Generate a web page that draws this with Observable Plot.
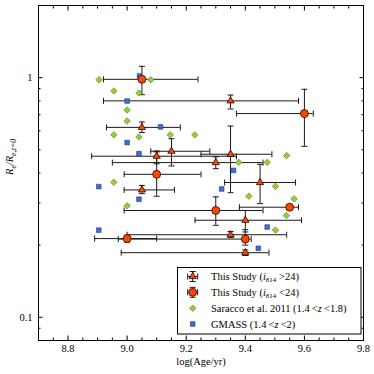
<!DOCTYPE html>
<html><head><meta charset="utf-8">
<script src="https://cdn.jsdelivr.net/npm/d3@7"></script>
<script src="https://cdn.jsdelivr.net/npm/@observablehq/plot@0.6"></script>
<style>
body{margin:0;background:#fff}
#chart{width:374px;height:374px}
</style>
</head><body><div id="chart"></div>
<script>
// This Study (i814 > 24) — triangles
const faintAge      = [9.35, 9.05, 9.10, 9.15, 9.35, 9.30, 9.45, 9.05, 9.40, 9.35, 9.40];
const faintRatio    = [0.80, 0.62, 0.47, 0.493, 0.479, 0.442, 0.365, 0.340, 0.254, 0.221, 0.186];
const faintAgeLo    = [8.92, 8.93, 8.88, 9.08, 9.25, 8.95, 9.33, 8.99, 9.23, 9.00, 8.98];
const faintAgeHi    = [9.58, 9.18, 9.37, 9.28, 9.49, 9.46, 9.57, 9.16, 9.59, 9.54, 9.48];
const faintRatioLo  = [0.74, 0.59, 0.437, 0.428, 0.331, 0.417, 0.298, 0.328, 0.227, 0.215, 0.181];
const faintRatioHi  = [0.846, 0.653, 0.494, 0.556, 0.628, 0.467, 0.435, 0.355, 0.279, 0.228, 0.191];

// This Study (i814 < 24) — circles
const brightAge     = [9.05, 9.60, 9.10, 9.30, 9.55, 9.00, 9.40];
const brightRatio   = [0.984, 0.708, 0.395, 0.279, 0.288, 0.213, 0.212];
const brightAgeLo   = [8.92, 9.37, 8.99, 8.99, 9.38, 8.89, 8.97];
const brightAgeHi   = [9.24, 9.63, 9.25, 9.46, 9.58, 9.10, 9.42];
const brightRatioLo = [0.849, 0.517, 0.32, 0.242, 0.281, 0.206, 0.200];
const brightRatioHi = [1.115, 0.894, 0.49, 0.318, 0.295, 0.220, 0.232];

// Saracco et al. 2011 (1.4 < z < 1.8) — diamonds
const saraccoAge   = [8.905, 9.08, 8.955, 9.04, 9.00, 9.00, 8.955, 9.04, 9.146, 9.229, 9.54, 9.378, 9.474, 8.955, 9.502, 9.412, 9.565, 9.00, 9.539, 9.502];
const saraccoRatio = [0.98, 0.98, 0.88, 0.863, 0.733, 0.659, 0.577, 0.565, 0.577, 0.577, 0.473, 0.443, 0.443, 0.366, 0.352, 0.320, 0.312, 0.292, 0.266, 0.231];

// GMASS (1.4 < z < 2) — squares
const gmassAge   = [9.042, 9.00, 9.113, 9.00, 9.04, 9.36, 8.904, 9.32, 9.04, 8.904, 9.474, 9.444];
const gmassRatio = [1.016, 0.799, 0.623, 0.536, 0.482, 0.410, 0.351, 0.343, 0.311, 0.231, 0.238, 0.194];

// Axes
const xMajor = [8.8, 9.0, 9.2, 9.4, 9.6, 9.8];
const xMinor = [8.75, 8.85, 8.9, 8.95, 9.05, 9.1, 9.15, 9.25, 9.3, 9.35, 9.45, 9.5, 9.55, 9.65, 9.7, 9.75];
const yMajor = [0.1, 1];
const yMajorLabels = ["0.1", "1"];
const yMinor = [0.09, 0.2, 0.3, 0.4, 0.5, 0.6, 0.7, 0.8, 0.9, 2];
const xLabel = "log(Age/yr)";

const legendLabels = [
  ["This Study (", {i: "i"}, {sub: "814"}, " >24)"],
  ["This Study (", {i: "i"}, {sub: "814"}, " <24)"],
  ["Saracco et al. 2011 (1.4\u2009<", {i: "z"}, "\u2009<1.8)"],
  ["GMASS (1.4\u2009<", {i: "z"}, "\u2009<2)"]
];

const FONT = "Liberation Serif";

const faint = faintAge.map((a, i) => ({age: a, ratio: faintRatio[i], xlo: faintAgeLo[i], xhi: faintAgeHi[i], ylo: faintRatioLo[i], yhi: faintRatioHi[i]}));
const bright = brightAge.map((a, i) => ({age: a, ratio: brightRatio[i], xlo: brightAgeLo[i], xhi: brightAgeHi[i], ylo: brightRatioLo[i], yhi: brightRatioHi[i]}));
const saracco = saraccoAge.map((a, i) => ({age: a, ratio: saraccoRatio[i]}));
const gmass = gmassAge.map((a, i) => ({age: a, ratio: gmassRatio[i]}));

const vcap = {draw(ctx, size) { const r = Math.sqrt(size / Math.PI); ctx.moveTo(0, -r); ctx.lineTo(0, r); }};
const hcap = {draw(ctx, size) { const r = Math.sqrt(size / Math.PI); ctx.moveTo(-r, 0); ctx.lineTo(r, 0); }};

const RED = "#ff4500", GREEN = "#9acd32", BLUE = "#3f6fdc", EB = "#1a1a1a";

function errorMarks(data) {
  return [
    Plot.ruleY(data, {y: "ratio", x1: "xlo", x2: "xhi", stroke: EB, strokeWidth: 1}),
    Plot.ruleX(data, {x: "age", y1: "ylo", y2: "yhi", stroke: EB, strokeWidth: 1}),
    Plot.dot(data, {x: "xlo", y: "ratio", symbol: vcap, r: 3, stroke: EB, strokeWidth: 1}),
    Plot.dot(data, {x: "xhi", y: "ratio", symbol: vcap, r: 3, stroke: EB, strokeWidth: 1}),
    Plot.dot(data, {x: "age", y: "ylo", symbol: hcap, r: 3, stroke: EB, strokeWidth: 1}),
    Plot.dot(data, {x: "age", y: "yhi", symbol: hcap, r: 3, stroke: EB, strokeWidth: 1})
  ];
}

const chart = Plot.plot({
  width: 374, height: 374,
  marginLeft: 38, marginRight: 11, marginTop: 5, marginBottom: 34,
  style: {fontFamily: FONT, fontSize: "10.5px", color: "#000", background: "#fff"},
  x: {domain: [8.7, 9.8], axis: null},
  y: {type: "log", domain: [0.08, 2.0], axis: null},
  marks: [
    ...errorMarks(faint),
    ...errorMarks(bright),
    Plot.dot(saracco, {x: "age", y: "ratio", symbol: "diamond2", r: 2.9, fill: GREEN, stroke: "#4f7a1c", strokeWidth: 0.6}),
    Plot.dot(gmass, {x: "age", y: "ratio", symbol: "square", r: 2.6, fill: BLUE, stroke: "#1c3270", strokeWidth: 0.6}),
    Plot.dot(faint, {x: "age", y: "ratio", symbol: "triangle", r: 2.7, fill: RED, stroke: "#000", strokeWidth: 0.7}),
    Plot.dot(bright, {x: "age", y: "ratio", symbol: "circle", r: 4, fill: RED, stroke: "#000", strokeWidth: 0.7}),
    // ticks (inward, all four sides)
    Plot.axisX({ticks: xMajor, anchor: "bottom", tickSize: -4.5, tickFormat: () => "", label: null}),
    Plot.axisX({ticks: xMajor, anchor: "top", tickSize: -4.5, tickFormat: () => "", label: null}),
    Plot.axisX({ticks: xMinor, anchor: "bottom", tickSize: -2.5, tickFormat: () => "", label: null}),
    Plot.axisX({ticks: xMinor, anchor: "top", tickSize: -2.5, tickFormat: () => "", label: null}),
    Plot.axisY({ticks: yMajor, anchor: "left", tickSize: -4.5, tickFormat: () => "", label: null}),
    Plot.axisY({ticks: yMajor, anchor: "right", tickSize: -4.5, tickFormat: () => "", label: null}),
    Plot.axisY({ticks: yMinor, anchor: "left", tickSize: -2.5, tickFormat: () => "", label: null}),
    Plot.axisY({ticks: yMinor, anchor: "right", tickSize: -2.5, tickFormat: () => "", label: null}),
    // tick labels
    Plot.axisX({ticks: xMajor, anchor: "bottom", tickSize: 0, tickPadding: 4, tickFormat: d => d.toFixed(1), label: null, fontFamily: FONT, fontVariant: "normal"}),
    Plot.axisY({ticks: yMajor, anchor: "left", tickSize: 0, tickPadding: 6, tickFormat: d => yMajorLabels[yMajor.indexOf(d)], label: null, fontFamily: FONT, fontVariant: "normal"}),
    Plot.text([xLabel], {frameAnchor: "bottom", dy: 21, text: d => d, lineAnchor: "middle", fontFamily: FONT}),
    Plot.frame({stroke: "#000", strokeWidth: 1})
  ]
});
document.getElementById("chart").appendChild(chart);

// y-axis label with italic and subscripts
const svg = d3.select(chart);
const yl = svg.append("text")
  .attr("transform", "translate(13,157) rotate(-90)")
  .attr("text-anchor", "middle")
  .attr("font-family", FONT)
  .attr("font-style", "italic")
  .attr("font-size", 10.5)
  .attr("fill", "#000");
yl.append("tspan").text("R");
yl.append("tspan").attr("font-size", 7.5).attr("dy", 2.5).text("e");
yl.append("tspan").attr("dy", -2.5).text("/R");
yl.append("tspan").attr("font-size", 7.5).attr("dy", 2.5).text("e,z=0");

// legend
const lg = svg.append("g");
lg.append("rect").attr("x", 177.5).attr("y", 267.5).attr("width", 183.5).attr("height", 66.5)
  .attr("fill", "#fff").attr("stroke", "#000").attr("stroke-width", 1);
const rowY = [276.5, 292.3, 308.3, 324];
const mx = 192.7;
const sym = (type, r) => d3.symbol(type, Math.PI * r * r)();
[0, 1].forEach(k => {
  const y = rowY[k];
  const g = lg.append("g").attr("stroke", EB).attr("stroke-width", 1).attr("fill", "none");
  g.append("line").attr("x1", mx - 5).attr("x2", mx + 5).attr("y1", y).attr("y2", y);
  g.append("line").attr("x1", mx).attr("x2", mx).attr("y1", y - 5).attr("y2", y + 5);
  g.append("line").attr("x1", mx - 5).attr("x2", mx - 5).attr("y1", y - 3).attr("y2", y + 3);
  g.append("line").attr("x1", mx + 5).attr("x2", mx + 5).attr("y1", y - 3).attr("y2", y + 3);
  g.append("line").attr("x1", mx - 3).attr("x2", mx + 3).attr("y1", y - 5).attr("y2", y - 5);
  g.append("line").attr("x1", mx - 3).attr("x2", mx + 3).attr("y1", y + 5).attr("y2", y + 5);
});
lg.append("path").attr("d", sym(d3.symbolTriangle, 2.7)).attr("transform", `translate(${mx},${rowY[0]})`)
  .attr("fill", RED).attr("stroke", "#000").attr("stroke-width", 0.7);
lg.append("path").attr("d", sym(d3.symbolCircle, 4)).attr("transform", `translate(${mx},${rowY[1]})`)
  .attr("fill", RED).attr("stroke", "#000").attr("stroke-width", 0.7);
lg.append("path").attr("d", sym(d3.symbolDiamond2, 2.9)).attr("transform", `translate(${mx},${rowY[2]})`)
  .attr("fill", GREEN).attr("stroke", "#4f7a1c").attr("stroke-width", 0.6);
lg.append("path").attr("d", sym(d3.symbolSquare, 2.6)).attr("transform", `translate(${mx},${rowY[3]})`)
  .attr("fill", BLUE).attr("stroke", "#1c3270").attr("stroke-width", 0.6);
legendLabels.forEach((parts, k) => {
  const t = lg.append("text").attr("x", 211).attr("y", rowY[k]).attr("dy", "0.35em")
    .attr("text-anchor", "start").attr("font-family", FONT)
    .attr("font-size", 10.5).attr("fill", "#000");
  let shifted = false;
  parts.forEach(p => {
    if (typeof p === "string") {
      const s = t.append("tspan").text(p);
      if (shifted) { s.attr("dy", -2); shifted = false; }
    } else if (p.i) {
      const s = t.append("tspan").attr("font-style", "italic").text(p.i);
      if (shifted) { s.attr("dy", -2); shifted = false; }
    } else if (p.sub) {
      t.append("tspan").attr("font-size", 7).attr("dy", 2).text(p.sub);
      shifted = true;
    }
  });
});
</script>
</body></html>
